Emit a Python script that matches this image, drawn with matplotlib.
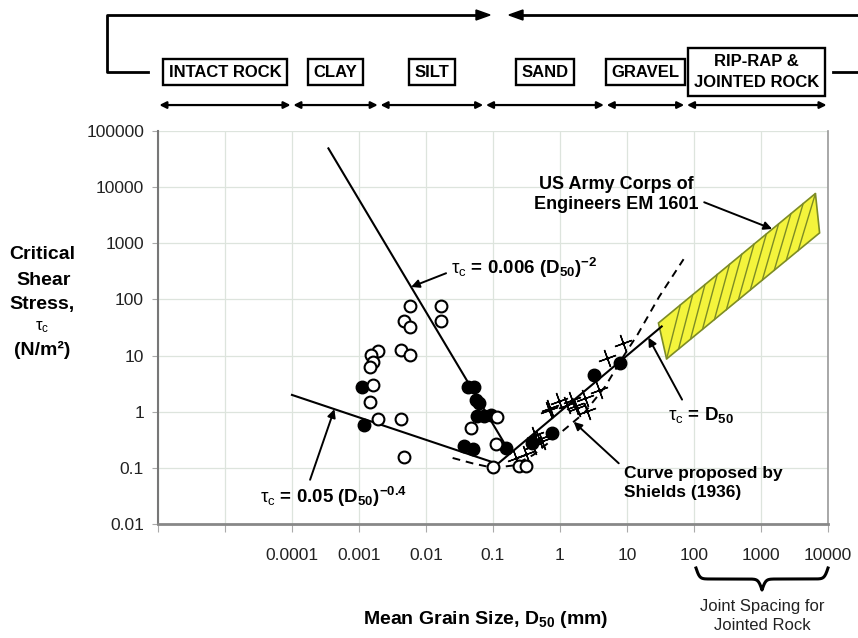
import numpy as np
import matplotlib
matplotlib.use('Agg')
import matplotlib.pyplot as plt
from matplotlib.lines import Line2D

plt.rcParams['font.family'] = 'Liberation Sans'
plt.rcParams['mathtext.fontset'] = 'custom'
plt.rcParams['mathtext.rm'] = 'Liberation Sans'
plt.rcParams['mathtext.bf'] = 'Liberation Sans:bold'
plt.rcParams['mathtext.it'] = 'Liberation Sans:italic'
plt.rcParams['mathtext.sf'] = 'Liberation Sans'

# material classes across the top, with their grain size limits (mm)
classes = ['INTACT ROCK', 'CLAY', 'SILT', 'SAND', 'GRAVEL', 'RIP-RAP &\nJOINTED ROCK']
class_bounds = [1e-6, 1e-4, 0.002, 0.075, 4.75, 75, 1e4]

x_ticks = [1e-6, 1e-5, 1e-4, 1e-3, 1e-2, 1e-1, 1, 10, 100, 1000, 10000]
x_labels = ['', '', '0.0001', '0.001', '0.01', '0.1', '1', '10', '100', '1000', '10000']
y_ticks = [0.01, 0.1, 1, 10, 100, 1000, 10000, 100000]
y_labels = ['0.01', '0.1', '1', '10', '100', '1000', '10000', '100000']

# measured critical shear stress
open_d = [0.0058, 0.0167, 0.0167, 0.0047, 0.0058, 0.0042, 0.0058, 0.0019, 0.0015,
          0.0016, 0.00146, 0.0016, 0.00146, 0.0019, 0.0042, 0.0047, 0.0466, 0.116,
          0.11, 0.1, 0.244, 0.307]
open_t = [75, 77, 41, 42, 32, 12.7, 10.4, 12.2, 10.4,
          7.6, 6.3, 3.0, 1.47, 0.74, 0.74, 0.155, 0.52, 0.82,
          0.27, 0.103, 0.106, 0.106]
filled_d = [0.0011, 0.0012, 0.043, 0.052, 0.055, 0.062, 0.058, 0.073, 0.092,
            0.037, 0.050, 0.155, 0.385, 0.76, 3.18, 7.76]
filled_t = [2.7, 0.57, 2.76, 2.76, 1.64, 1.43, 0.85, 0.85, 0.88,
            0.24, 0.216, 0.225, 0.276, 0.42, 4.57, 7.4]
cross_d = [0.22, 0.31, 0.39, 0.43, 0.48, 0.54, 0.68, 0.72, 0.96, 1.28, 1.51, 1.7,
           1.8, 2.4, 2.53, 3.78, 5.0, 8.6]
cross_t = [0.15, 0.18, 0.24, 0.39, 0.32, 0.30, 1.09, 1.16, 1.53, 1.33, 1.64, 1.24,
           1.16, 1.75, 1.01, 2.47, 9.0, 17.0]

# Shields (1936) curve
shields_d = [0.025, 0.05, 0.1, 0.2, 0.4, 0.8, 1.5, 2.3, 4.75, 9, 14.5, 30, 70]
shields_t = [0.15, 0.12, 0.1, 0.11, 0.17, 0.33, 0.62, 0.95, 2.83, 10, 24, 110, 520]

# US Army Corps of Engineers EM 1601 band
band_low_d = [39, 7500]
band_low_t = [8.7, 1530]
band_up_d = [29.5, 6500]
band_up_t = [38, 7700]

# ranges of the fitted relations
fine_d = np.array([3.5e-4, 0.182])    # tau = 0.006 D^-2
rock_d = np.array([1e-4, 0.118])      # tau = 0.05 D^-0.4
coarse_d = np.array([0.118, 33])      # tau = D

fig = plt.figure(figsize=(8.58, 6.38), dpi=100)
ax = fig.add_axes([0.1841, 0.1787, 0.7809, 0.616])
ax.set_xscale('log')
ax.set_yscale('log')
ax.set_xlim(1e-6, 1e4)
ax.set_ylim(0.01, 1e5)
ax.set_xticks(x_ticks)
ax.set_xticklabels(x_labels, fontsize=12.5)
ax.set_yticks(y_ticks)
ax.set_yticklabels(y_labels, fontsize=12.5)
ax.minorticks_off()
ax.grid(True, color='#dde4dd', lw=0.9)
ax.set_axisbelow(True)
ax.tick_params(axis='x', length=6, pad=11, color='#aaaaaa', labelcolor='#222222')
ax.tick_params(axis='y', length=4, pad=6, color='#aaaaaa', labelcolor='#222222')
ax.spines['top'].set_visible(False)
ax.spines['left'].set_color('#777777')
ax.spines['left'].set_linewidth(1.5)
ax.spines['bottom'].set_color('#888888')
ax.spines['bottom'].set_linewidth(2)
ax.spines['right'].set_color('#999999')
ax.spines['right'].set_linewidth(1.2)

# EM 1601 band with its hatching
olive = '#7d8c25'
poly_d = band_low_d + band_up_d[::-1]
poly_t = band_low_t + band_up_t[::-1]
ax.fill(poly_d, poly_t, facecolor='#f4f43c', edgecolor=olive, lw=1.2, zorder=2)
lx = np.log10(band_low_d); ly = np.log10(band_low_t)
ux = np.log10(band_up_d); uy = np.log10(band_up_t)
for a in np.linspace(0.0, 0.86, 12):
    b = a + 0.14
    ax.plot([10 ** (lx[0] + a * (lx[1] - lx[0])), 10 ** (ux[0] + b * (ux[1] - ux[0]))],
            [10 ** (ly[0] + a * (ly[1] - ly[0])), 10 ** (uy[0] + b * (uy[1] - uy[0]))],
            color=olive, lw=1, zorder=3)

# fitted relations
ax.plot(fine_d, 0.006 * fine_d ** -2, color='black', lw=1.5, zorder=4)
ax.plot(rock_d, 0.05 * rock_d ** -0.4, color='black', lw=1.5, zorder=4)
ax.plot(coarse_d, coarse_d, color='black', lw=1.5, zorder=4)
ax.plot(shields_d, shields_t, color='black', lw=1.4, ls=(0, (4, 3)), zorder=4)

# data
ax.plot(cross_d, cross_t, ls='none', marker=(4, 2, 20), ms=13, mew=1, color='black', zorder=5)
ax.plot(filled_d, filled_t, ls='none', marker='o', ms=9, color='black', zorder=6)
ax.plot(open_d, open_t, ls='none', marker='o', ms=8.5, mfc='white', mec='black', mew=1.5, zorder=6)

arrow = dict(arrowstyle='-|>', color='black', lw=1.4, mutation_scale=12, shrinkA=2, shrinkB=0)
tau_c = r'$\mathrm{\tau}_\mathrm{c}$'

ax.annotate(tau_c + r' = 0.006 (D$_\mathbf{50}$)$^\mathbf{-2}$',
            xy=(0.006, 0.006 / 0.006 ** 2), xytext=(0.024, 370),
            fontsize=13.5, fontweight='bold', ha='left', va='center',
            arrowprops=dict(arrow, relpos=(0.0, 0.35)), zorder=7)
ax.annotate(tau_c + r' = 0.05 (D$_\mathbf{50}$)$^\mathbf{-0.4}$',
            xy=(4.3e-4, 0.05 * 4.3e-4 ** -0.4), xytext=(3.3e-5, 0.03),
            fontsize=13.5, fontweight='bold', ha='left', va='center',
            arrowprops=dict(arrow, relpos=(0.33, 1.0)), zorder=7)
ax.annotate('US Army Corps of\nEngineers EM 1601',
            xy=(1468, 1800), xytext=(7.0, 7400),
            fontsize=13, fontweight='bold', ha='center', va='center', linespacing=1.3,
            arrowprops=dict(arrow, relpos=(1.0, 0.35)), zorder=7)
ax.annotate(tau_c + r' = D$_\mathbf{50}$',
            xy=(20.9, 20.9), xytext=(41.6, 0.88),
            fontsize=13.5, fontweight='bold', ha='left', va='center',
            arrowprops=dict(arrow, relpos=(0.25, 1.0)), zorder=7)
ax.annotate('Curve proposed by\nShields (1936)',
            xy=(1.6, 0.66), xytext=(8.9, 0.054),
            fontsize=12.5, fontweight='bold', ha='left', va='center', linespacing=1.3,
            arrowprops=dict(arrow, relpos=(0.0, 0.95)), zorder=7)

# class ranges and boxes above the plot
for i, name in enumerate(classes):
    x0, x1 = class_bounds[i], class_bounds[i + 1]
    ax.annotate('', xy=(x1, 1.066), xytext=(x0, 1.066),
                xycoords=('data', 'axes fraction'), textcoords=('data', 'axes fraction'),
                arrowprops=dict(arrowstyle='<|-|>', color='black', lw=1.6,
                                mutation_scale=10, shrinkA=1, shrinkB=1),
                annotation_clip=False)
    ax.text(np.sqrt(x0 * x1), 1.15, name, transform=ax.get_xaxis_transform(),
            ha='center', va='center', fontsize=12, fontweight='bold', linespacing=1.45,
            bbox=dict(boxstyle='square,pad=0.35', fc='white', ec='black', lw=1.7),
            clip_on=False)


def fx(px):
    return px / 858.0


def fy(py):
    return 1 - py / 638.0


# bracket lines at the very top
fig.add_artist(Line2D([fx(148), fx(107), fx(107), fx(480)],
                      [fy(72), fy(72), fy(15), fy(15)], color='black', lw=2))
fig.add_artist(Line2D([fx(833), fx(858)], [fy(72), fy(72)], color='black', lw=2))
fig.add_artist(Line2D([fx(858), fx(519)], [fy(15), fy(15)], color='black', lw=2))
fig.patches.append(plt.Polygon([[fx(476), fy(10)], [fx(490), fy(15)], [fx(476), fy(20)]],
                               closed=True, color='black', transform=fig.transFigure))
fig.patches.append(plt.Polygon([[fx(523), fy(10)], [fx(509), fy(15)], [fx(523), fy(20)]],
                               closed=True, color='black', transform=fig.transFigure))

# brace under the jointed rock range
bx0, bx1, btop, bh = 696, 828, 568, 22
half = (bx1 - bx0) / 2.0
xs = np.linspace(0, half, 120)
beta = 0.55
ys = 1 / (1 + np.exp(-beta * (xs - xs[0]))) + 1 / (1 + np.exp(-beta * (xs - xs[-1])))
xs = np.concatenate([bx0 + xs, bx0 + 2 * half - xs[-2::-1]])
ys = np.concatenate([ys, ys[-2::-1]])
ys = btop + (ys - 0.5) * bh
fig.add_artist(Line2D(fx(xs), fy(ys), color='black', lw=2.2))
fig.text(fx(762), fy(616), 'Joint Spacing for\nJointed Rock', ha='center', va='center',
         fontsize=12, linespacing=1.35, color='#222222')

# axis titles
fig.text(fx(486), fy(620), r'Mean Grain Size, D$_\mathbf{50}$ (mm)', ha='center', va='center',
         fontsize=14, fontweight='bold')
fig.text(fx(42), fy(255), 'Critical', ha='center', va='center', fontsize=14, fontweight='bold')
fig.text(fx(44), fy(280), 'Shear', ha='center', va='center', fontsize=14, fontweight='bold')
fig.text(fx(42), fy(304), 'Stress,', ha='center', va='center', fontsize=14, fontweight='bold')
fig.text(fx(42), fy(327), tau_c, ha='center', va='center', fontsize=12)
fig.text(fx(42), fy(350), '(N/m²)', ha='center', va='center', fontsize=14, fontweight='bold')

fig.savefig('out.png', dpi=100)
